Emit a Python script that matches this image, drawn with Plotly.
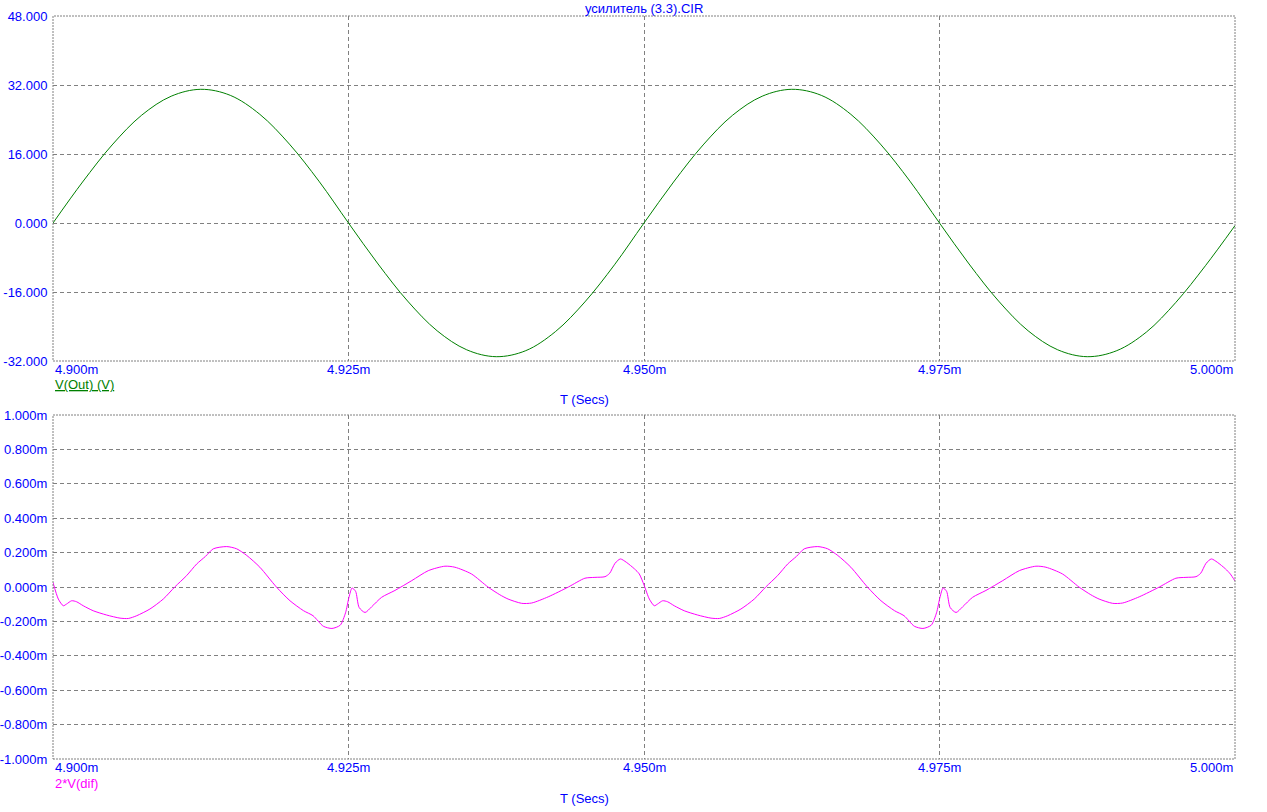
import plotly.graph_objects as go

# ---------------- data ----------------
title_text = "усилитель (3.3).CIR"

# V(Out) in volts, time in ms
t_out_ms = [4.9000, 4.9025, 4.9050, 4.9075, 4.9100, 4.9125, 4.9150, 4.9175, 4.9200, 4.9225,
            4.9250, 4.9275, 4.9300, 4.9325, 4.9350, 4.9375, 4.9400, 4.9425, 4.9450, 4.9475,
            4.9500, 4.9525, 4.9550, 4.9575, 4.9600, 4.9625, 4.9650, 4.9675, 4.9700, 4.9725,
            4.9750, 4.9775, 4.9800, 4.9825, 4.9850, 4.9875, 4.9900, 4.9925, 4.9950, 4.9975,
            5.0000]
v_out = [0.0, 9.5, 18.1, 25.0, 29.4, 31.0, 29.6, 25.2, 18.3, 9.7,
         0.0, -9.5, -18.1, -25.0, -29.4, -31.0, -29.6, -25.2, -18.3, -9.7,
         0.0, 9.5, 18.1, 25.0, 29.4, 31.0, 29.6, 25.2, 18.3, 9.7,
         0.0, -9.5, -18.1, -25.0, -29.4, -31.0, -29.6, -25.3, -18.4, -9.9,
         -0.6]

# 2*V(dif), time in microseconds after 4.900 ms, values in mV
t_dif_us = [0.0, 0.45, 0.87, 1.15, 1.58, 2.0, 2.56, 3.4, 4.54, 5.67,
            6.37, 7.08, 8.2, 9.33, 10.3, 11.3, 12.16, 12.9, 13.56, 14.7,
            15.54, 16.4, 17.5, 18.9, 20.05, 21.2, 22.0, 22.87, 23.6, 24.3,
            24.75, 25.04, 25.3, 25.6, 25.9, 26.4, 26.96, 27.8, 28.93, 30.35,
            31.75, 33.16, 34.0, 35.4, 36.8, 37.8, 38.5, 39.65, 40.5, 41.9,
            43.6, 45.0, 45.85, 46.7, 47.1, 47.55, 48.0, 48.5, 49.2, 49.6,
            50.0, 50.45, 50.87, 51.15, 51.58, 52.0, 52.56, 53.4, 54.54, 55.67,
            56.37, 57.08, 58.2, 59.33, 60.3, 61.3, 62.16, 62.9, 63.56, 64.7,
            65.54, 66.4, 67.5, 68.9, 70.05, 71.2, 72.0, 72.87, 73.6, 74.3,
            74.75, 75.04, 75.3, 75.6, 75.9, 76.4, 76.96, 77.8, 78.93, 80.35,
            81.75, 83.16, 84.0, 85.4, 86.8, 87.8, 88.5, 89.65, 90.5, 91.9,
            93.6, 95.0, 95.85, 96.7, 97.1, 97.55, 98.0, 98.5, 99.2, 99.6,
            100.0]
v_dif2_mV = [0.027, -0.07, -0.109, -0.099, -0.08, -0.086, -0.109, -0.138, -0.163, -0.181,
             -0.183, -0.167, -0.128, -0.07, 0.0, 0.066, 0.134, 0.178, 0.222, 0.235,
             0.222, 0.183, 0.115, 0.0, -0.08, -0.138, -0.167, -0.228, -0.241, -0.222,
             -0.15, -0.06, -0.006, -0.025, -0.119, -0.148, -0.115, -0.06, -0.02, 0.037,
             0.095, 0.121, 0.115, 0.076, 0.0, -0.045, -0.07, -0.095, -0.093, -0.057,
             0.0, 0.051, 0.056, 0.06, 0.08, 0.138, 0.163, 0.144, 0.105, 0.076,
             0.012, -0.07, -0.109, -0.099, -0.08, -0.086, -0.109, -0.138, -0.163, -0.181,
             -0.183, -0.167, -0.128, -0.07, 0.0, 0.066, 0.134, 0.178, 0.222, 0.235,
             0.222, 0.183, 0.115, 0.0, -0.08, -0.138, -0.167, -0.228, -0.241, -0.222,
             -0.15, -0.06, -0.006, -0.025, -0.119, -0.148, -0.115, -0.06, -0.02, 0.037,
             0.095, 0.121, 0.115, 0.076, 0.0, -0.045, -0.07, -0.095, -0.093, -0.057,
             0.0, 0.051, 0.056, 0.06, 0.08, 0.138, 0.163, 0.144, 0.105, 0.076,
             0.035]
t_dif_ms = [4.9 + u / 1000.0 for u in t_dif_us]

x_ticks = [4.900, 4.925, 4.950, 4.975, 5.000]
x_ticklabels = ["4.900m", "4.925m", "4.950m", "4.975m", "5.000m"]
y1_ticks = [48, 32, 16, 0, -16, -32]
y1_ticklabels = ["48.000", "32.000", "16.000", "0.000", "-16.000", "-32.000"]
y2_ticks = [1.0, 0.8, 0.6, 0.4, 0.2, 0.0, -0.2, -0.4, -0.6, -0.8, -1.0]
y2_ticklabels = ["1.000m", "0.800m", "0.600m", "0.400m", "0.200m", "0.000m",
                 "-0.200m", "-0.400m", "-0.600m", "-0.800m", "-1.000m"]

# ---------------- styling ----------------
FONT = "Liberation Sans, Arial, sans-serif"
FS = 13
BLUE = "#0000FF"
GREEN = "#008000"
MAGENTA = "#FF00FF"
GRID = "#808080"
DASH = "4px,3px"

W, H = 1267, 812
ML, MR, MT, MB = 53, 32, 16, 53
plot_h = H - MT - MB
top_dom = [(H - MB - 361) / plot_h, 1.0]
bot_dom = [0.0, (H - MB - 415) / plot_h]

fig = go.Figure()
fig.add_trace(go.Scatter(x=t_out_ms, y=v_out, mode="lines",
                         line=dict(color=GREEN, width=1, shape="spline", smoothing=1.0),
                         xaxis="x", yaxis="y", showlegend=False, hoverinfo="skip"))
fig.add_trace(go.Scatter(x=t_dif_ms, y=v_dif2_mV, mode="lines",
                         line=dict(color=MAGENTA, width=1, shape="spline", smoothing=0.7),
                         xaxis="x2", yaxis="y2", showlegend=False, hoverinfo="skip"))

xcommon = dict(range=[x_ticks[0], x_ticks[-1]], tickvals=x_ticks[1:-1], showticklabels=False,
               showgrid=True, gridcolor=GRID, griddash=DASH, gridwidth=1,
               zeroline=False, showline=False, ticks="", fixedrange=True, automargin=False)
ycommon = dict(showgrid=True, gridcolor=GRID, griddash=DASH, gridwidth=1,
               zeroline=False, showline=False, ticks="outside", ticklen=2,
               tickcolor="rgba(0,0,0,0)", automargin=False,
               tickfont=dict(family=FONT, size=FS, color=BLUE))
fig.update_layout(
    width=W, height=H, autosize=False,
    margin=dict(l=ML, r=MR, t=MT, b=MB, pad=0),
    paper_bgcolor="white", plot_bgcolor="white",
    font=dict(family=FONT, size=FS, color=BLUE),
    xaxis=dict(domain=[0, 1], anchor="y", **xcommon),
    xaxis2=dict(domain=[0, 1], anchor="y2", **xcommon),
    yaxis=dict(domain=top_dom, anchor="x", range=[-32, 48],
               tickvals=y1_ticks, ticktext=y1_ticklabels, **ycommon),
    yaxis2=dict(domain=bot_dom, anchor="x2", range=[-1.0, 1.0],
                tickvals=y2_ticks, ticktext=y2_ticklabels, **ycommon),
)

# frames (dotted)
for xr, yr in (("x", "y"), ("x2", "y2")):
    fig.add_shape(type="rect", xref=f"{xr} domain", yref=f"{yr} domain",
                  x0=0, x1=1, y0=0, y1=1,
                  line=dict(color=GRID, width=1, dash="2px,1px"), layer="above")

def py(pix):
    """pixel row -> paper y"""
    return (H - MB - pix) / plot_h

def px(pix):
    return (pix - ML) / (W - ML - MR)

# x tick labels as annotations (first left-aligned, last right-aligned)
for axis, ypix in (("x", 369), ("x2", 767)):
    for i, (v, lab) in enumerate(zip(x_ticks, x_ticklabels)):
        anchor = "left" if i == 0 else ("right" if i == len(x_ticks) - 1 else "center")
        fig.add_annotation(x=v, xref=axis, y=py(ypix), yref="paper", text=lab,
                           showarrow=False, xanchor=anchor, yanchor="middle",
                           font=dict(family=FONT, size=FS, color=BLUE))

fig.add_annotation(x=px(644), xref="paper", y=py(8), yref="paper", text=title_text,
                   showarrow=False, xanchor="center", yanchor="middle",
                   font=dict(family=FONT, size=FS, color=BLUE))
fig.add_annotation(x=0, xref="paper", y=py(384), yref="paper", text="<u>V(Out) (V)</u>",
                   showarrow=False, xanchor="left", yanchor="middle",
                   font=dict(family=FONT, size=FS, color=GREEN))
fig.add_annotation(x=px(584), xref="paper", y=py(399), yref="paper", text="T (Secs)",
                   showarrow=False, xanchor="center", yanchor="middle",
                   font=dict(family=FONT, size=FS, color=BLUE))
fig.add_annotation(x=0, xref="paper", y=py(783), yref="paper", text="2*V(dif)",
                   showarrow=False, xanchor="left", yanchor="middle",
                   font=dict(family=FONT, size=FS, color=MAGENTA))
fig.add_annotation(x=px(584), xref="paper", y=py(798), yref="paper", text="T (Secs)",
                   showarrow=False, xanchor="center", yanchor="middle",
                   font=dict(family=FONT, size=FS, color=BLUE))

fig.write_html("out.html", config={"displayModeBar": False},
               post_script="document.body.style.margin='0';document.body.style.overflow='hidden';")
